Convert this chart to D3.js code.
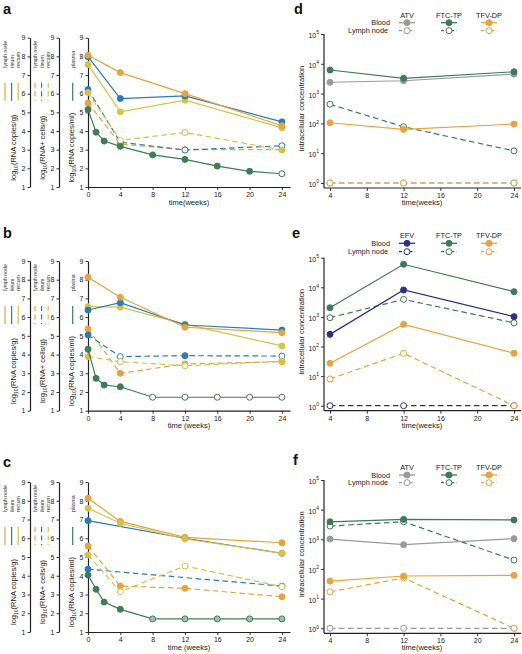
<!DOCTYPE html>
<html><head><meta charset="utf-8">
<script src="https://cdn.jsdelivr.net/npm/d3@7"></script>
<style>body{margin:0;background:#fff} svg{font-family:"Liberation Sans",Arial,Helvetica,sans-serif}</style>
</head><body><svg id="chart" width="522" height="654"></svg>
<script>
// ---------- DATA ----------
const plasmaWeeks = [0, 1, 2, 4, 8, 12, 16, 20, 24];
const tissueWeeks = [0, 4, 12, 24];
const drugWeeks = [4, 12, 24];
const leftTicksX = [0, 4, 8, 12, 16, 20, 24];
const leftTicksY = [1, 2, 3, 4, 5, 6, 7, 8, 9];
const rightTicksX = [4, 8, 12, 16, 20, 24];
const rightTicksY = [1, 10, 100, 1000, 10000, 100000];
const tissueNames = ["lymph node", "ileum", "rectum"];

// panel a
const plasmaA = [5.15, 3.94, 3.46, 3.18, 2.72, 2.48, 2.12, 1.84, 1.71];
const plasmaAOpen = [0, 0, 0, 0, 0, 0, 0, 0, 1];
const lnCopiesA = [8.06, 7.13, 6.0, 4.28];
const ileumCopiesA = [7.98, 5.74, 5.88, 4.49];
const rectumCopiesA = [7.56, 5.03, 5.65, 4.17];
const lnCellsA = [5.5, 3.3, 3.0, 3.0];
const lnCellsAOpen = [0, 0, 0, 0];
const ileumCellsA = [6.22, 3.4, 2.98, 3.21];
const ileumCellsAOpen = [0, 1, 1, 1];
const rectumCellsA = [6.06, 3.5, 3.92, 2.98];
const rectumCellsAOpen = [0, 1, 1, 0];

// panel b
const plasmaB = [4.28, 2.73, 2.37, 2.28, 1.72, 1.72, 1.72, 1.72, 1.72];
const plasmaBOpen = [0, 0, 0, 0, 1, 1, 1, 1, 1];
const lnCopiesB = [8.13, 7.06, 5.46, 5.17];
const ileumCopiesB = [6.38, 6.77, 5.58, 5.31];
const rectumCopiesB = [6.56, 6.53, 5.63, 4.46];
const lnCellsB = [5.37, 3.0, 3.5, 3.62];
const lnCellsBOpen = [0, 0, 0, 0];
const ileumCellsB = [5.05, 3.89, 3.94, 3.92];
const ileumCellsBOpen = [0, 1, 0, 1];
const rectumCellsB = [3.89, 3.62, 3.4, 3.65];
const rectumCellsBOpen = [0, 1, 1, 0];

// panel c
const plasmaC = [4.04, 3.28, 2.6, 2.21, 1.7, 1.7, 1.7, 1.7, 1.7];
const plasmaCOpen = [0, 0, 0, 0, 1, 1, 1, 1, 1];
const lnCopiesC = [8.13, 6.9, 6.05, 5.76];
const ileumWeeksC = [0, 12, 24];
const ileumCopiesC = [6.94, 6.0, 5.2];
const rectumCopiesC = [7.6, 6.8, 5.96, 5.2];
const lnCellsC = [5.59, 3.45, 3.33, 2.88];
const lnCellsCOpen = [0, 0, 0, 0];
const ileumCellsWeeksC = [0, 24];
const ileumCellsC = [4.35, 3.45];
const ileumCellsCOpen = [0, 1];
const rectumCellsC = [5.11, 3.15, 4.52, 3.42];
const rectumCellsCOpen = [0, 1, 1, 1];

// panel d
const drugsD = ["ATV", "FTC-TP", "TFV-DP"];
const bloodD = [[2400, 2700, 4500], [6200, 3250, 5400], [105, 63, 95]];
const lymphD = [[1, 1, 1], [440, 77, 12], [1, 1, 1]];
// panel e
const drugsE = ["EFV", "FTC-TP", "TFV-DP"];
const bloodE = [[257, 8100, 1020], [2040, 60000, 7100], [27, 560, 59]];
const lymphE = [[1, 1, 1], [940, 3900, 630], [8, 59, 1]];
// panel f
const drugsF = ["ATV", "FTC-TP", "TFV-DP"];
const bloodF = [[1020, 660, 1050], [3900, 4700, 4500], [39, 58, 61]];
const lymphF = [[1, 1, 1], [2800, 3900, 200], [17, 50, 1]];

// ---------- STYLE ----------
const COL = {ln: "#e8a33c", ileum: "#2a7bb6", rectum: "#d3c444", plasma: "#3f7d56",
  ATV: "#9a9a9a", "FTC-TP": "#3c7a58", "TFV-DP": "#e8a33c", EFV: "#2d2e87"};
const tissueCols = [COL.ln, COL.ileum, COL.rectum];
const AX = "#222";
const svg = d3.select("#chart");

function styleAxis(g, w) {
  g.selectAll("path.domain").attr("stroke", AX).attr("stroke-width", w || 1.2);
  g.selectAll(".tick line").attr("stroke", AX).attr("stroke-width", 0.9);
  g.selectAll(".tick text").attr("font-size", 7).attr("fill", AX).attr("font-family", "Liberation Sans, Arial, sans-serif");
}

function panelLetter(t, x, y) {
  svg.append("text").attr("x", x).attr("y", y).attr("font-size", 14.5).attr("font-weight", "bold").attr("fill", "#111").text(t);
}

function drawSeries(g, x, y, weeks, vals, opens, color, dashed, openFill) {
  const pts = weeks.map((w, i) => ({w, v: vals[i], o: opens ? opens[i] : 0}));
  g.append("path").datum(pts)
    .attr("d", d3.line().x(d => x(d.w)).y(d => y(d.v)))
    .attr("fill", "none").attr("stroke", color).attr("stroke-width", 1.2)
    .attr("stroke-dasharray", dashed ? "5.5,3.5" : null);
  g.selectAll(null).data(pts).enter().append("circle")
    .attr("cx", d => x(d.w)).attr("cy", d => y(d.v)).attr("r", 3)
    .attr("fill", d => d.o ? (openFill || "#fff") : color)
    .attr("stroke", color).attr("stroke-width", 1);
}

function leftPanel(cfg) {
  const top = cfg.top, bottom = cfg.bottom;
  const y = d3.scaleLinear().domain([1, 9]).range([bottom, top]);
  const x = d3.scaleLinear().domain([0, 25]).range([88, 290]);
  const g = svg.append("g");
  const axisXs = [30, 59, 88];
  const titles = [["log", "10", "(RNA copies/g)"], ["log", "10", "(RNA+ cells/g)"], ["log", "10", "(RNA copies/ml)"]];
  axisXs.forEach((ax, k) => {
    const a = g.append("g").attr("transform", `translate(${ax},0)`)
      .call(d3.axisLeft(y).tickValues(leftTicksY).tickSize(2.5).tickPadding(2).tickSizeOuter(0));
    styleAxis(a);
    const tx = ax - 17 + 2.5, ty = top + 110;
    const t = g.append("text").attr("transform", `translate(${tx},${ty}) rotate(-90)`)
      .attr("text-anchor", "middle").attr("font-size", 7.5).attr("fill", AX);
    t.append("tspan").text(titles[k][0]);
    t.append("tspan").attr("font-size", 5).attr("dy", 2).text(titles[k][1]);
    t.append("tspan").attr("dy", -2).text(titles[k][2]);
  });
  // small legends
  const lblBottom = top + 30, l0 = top + 45, l1 = top + 63;
  tissueNames.forEach((n, i) => {
    [5, 35].forEach((bx, k) => {
      const cx = bx + i * 6.6;
      g.append("text").attr("transform", `translate(${cx + 2},${lblBottom}) rotate(-90)`)
        .attr("font-size", 5.2).attr("fill", "#333").text(n);
      g.append("line").attr("x1", cx).attr("x2", cx).attr("y1", l0).attr("y2", l1)
        .attr("stroke", tissueCols[i]).attr("stroke-width", 1.2)
        .attr("stroke-dasharray", k ? "5,3.5" : null);
    });
  });
  g.append("text").attr("transform", `translate(${72.7 + 2},${lblBottom}) rotate(-90)`)
    .attr("font-size", 5.2).attr("fill", "#333").text("plasma");
  g.append("line").attr("x1", 72.7).attr("x2", 72.7).attr("y1", l0).attr("y2", l1)
    .attr("stroke", COL.plasma).attr("stroke-width", 1.2);
  // x axis
  const xa = g.append("g").attr("transform", `translate(0,${bottom})`)
    .call(d3.axisBottom(x).tickValues(leftTicksX).tickSize(3).tickPadding(2).tickSizeOuter(0));
  styleAxis(xa);
  g.append("text").attr("x", 189).attr("y", bottom + 17.5).attr("text-anchor", "middle")
    .attr("font-size", 7.5).attr("fill", AX).text(cfg.xTitle);
  // series
  cfg.dashed.forEach(s => drawSeries(g, x, y, s.w, s.v, s.o, s.c, true));
  cfg.solid.forEach(s => drawSeries(g, x, y, s.w, s.v, null, s.c, false));
  drawSeries(g, x, y, plasmaWeeks, cfg.plasma, cfg.plasmaOpen, COL.plasma, false, cfg.plasmaFill);
}

function rightPanel(cfg) {
  const yTop = cfg.yTop, y0 = cfg.y0;
  const y = d3.scaleLog().domain([1, 1e5]).range([y0, yTop]);
  const x = d3.scaleLinear().domain([4, 24]).range([330, 514]);
  const base = y0 + 5;
  const g = svg.append("g");
  const ya = g.append("g").attr("transform", "translate(324,0)")
    .call(d3.axisLeft(y).tickValues(rightTicksY).tickSize(3).tickPadding(2).tickFormat(() => ""));
  ya.select("path.domain").remove();
  styleAxis(ya);
  ya.selectAll(".tick text").each(function(d) {
    const t = d3.select(this).attr("x", -5).attr("dy", "0.5em");
    t.append("tspan").text("10");
    t.append("tspan").attr("font-size", 5).attr("dy", "-0.75em").text(Math.round(Math.log10(d)));
  });
  g.append("line").attr("x1", 324).attr("x2", 324).attr("y1", yTop).attr("y2", base)
    .attr("stroke", AX).attr("stroke-width", 1.2);
  const xa = g.append("g").attr("transform", `translate(0,${base})`)
    .call(d3.axisBottom(x).tickValues(rightTicksX).tickSize(3).tickPadding(2));
  xa.select("path.domain").remove();
  styleAxis(xa);
  g.append("line").attr("x1", 324).attr("x2", 521).attr("y1", base).attr("y2", base)
    .attr("stroke", AX).attr("stroke-width", 1.2);
  g.append("text").attr("x", 422).attr("y", base + 17).attr("text-anchor", "middle")
    .attr("font-size", 7.5).attr("fill", AX).text("time(weeks)");
  g.append("text").attr("transform", `translate(303.5,${(yTop + y0) / 2}) rotate(-90)`)
    .attr("text-anchor", "middle").attr("font-size", 7.5).attr("fill", AX).text("intracellular concentration");
  // legend
  const lx = [407, 449, 489];
  const ly = cfg.legendY;
  g.append("text").attr("x", 390).attr("y", ly[1] + 2.5).attr("text-anchor", "end").attr("font-size", 7.3).attr("fill", AX).text("Blood");
  g.append("text").attr("x", 388).attr("y", ly[2] + 2.5).attr("text-anchor", "end").attr("font-size", 7.3).attr("fill", AX).text("Lymph node");
  cfg.drugs.forEach((dn, i) => {
    const c = COL[dn];
    g.append("text").attr("x", lx[i]).attr("y", ly[0] + 2.5).attr("text-anchor", "middle").attr("font-size", 7.3).attr("fill", AX).text(dn);
    [1, 2].forEach(r => {
      g.append("line").attr("x1", lx[i] - 8).attr("x2", lx[i] + 8).attr("y1", ly[r]).attr("y2", ly[r])
        .attr("stroke", c).attr("stroke-width", 1.3).attr("stroke-dasharray", r === 2 ? "3,2.2" : null);
      g.append("circle").attr("cx", lx[i]).attr("cy", ly[r]).attr("r", 3)
        .attr("fill", r === 1 ? c : "#fff").attr("stroke", c).attr("stroke-width", 1);
    });
  });
  // series: lymph node first, then blood
  cfg.drugs.forEach((dn, i) => drawSeries(g, x, y, drugWeeks, cfg.lymph[i], [1, 1, 1], COL[dn], true));
  cfg.drugs.forEach((dn, i) => drawSeries(g, x, y, drugWeeks, cfg.blood[i], null, COL[dn], false));
}

// ---------- PANELS ----------
panelLetter("a", 3, 14);
leftPanel({top: 37.7, bottom: 187, xTitle: "time(weeks)",
  solid: [{w: tissueWeeks, v: rectumCopiesA, c: COL.rectum}, {w: tissueWeeks, v: ileumCopiesA, c: COL.ileum}, {w: tissueWeeks, v: lnCopiesA, c: COL.ln}],
  dashed: [{w: tissueWeeks, v: lnCellsA, o: lnCellsAOpen, c: COL.ln}, {w: tissueWeeks, v: ileumCellsA, o: ileumCellsAOpen, c: COL.ileum}, {w: tissueWeeks, v: rectumCellsA, o: rectumCellsAOpen, c: COL.rectum}],
  plasma: plasmaA, plasmaOpen: plasmaAOpen});

panelLetter("b", 3, 238);
leftPanel({top: 261, bottom: 410.7, xTitle: "time (weeks)",
  solid: [{w: tissueWeeks, v: rectumCopiesB, c: COL.rectum}, {w: tissueWeeks, v: ileumCopiesB, c: COL.ileum}, {w: tissueWeeks, v: lnCopiesB, c: COL.ln}],
  dashed: [{w: tissueWeeks, v: lnCellsB, o: lnCellsBOpen, c: COL.ln}, {w: tissueWeeks, v: ileumCellsB, o: ileumCellsBOpen, c: COL.ileum}, {w: tissueWeeks, v: rectumCellsB, o: rectumCellsBOpen, c: COL.rectum}],
  plasma: plasmaB, plasmaOpen: plasmaBOpen});

panelLetter("c", 3, 467);
leftPanel({top: 482, bottom: 632, xTitle: "time (weeks)",
  solid: [{w: ileumWeeksC, v: ileumCopiesC, c: COL.ileum}, {w: tissueWeeks, v: lnCopiesC, c: COL.ln}, {w: tissueWeeks, v: rectumCopiesC, c: COL.rectum}],
  dashed: [{w: ileumCellsWeeksC, v: ileumCellsC, o: ileumCellsCOpen, c: COL.ileum}, {w: tissueWeeks, v: lnCellsC, o: lnCellsCOpen, c: COL.ln}, {w: tissueWeeks, v: rectumCellsC, o: rectumCellsCOpen, c: COL.rectum}],
  plasma: plasmaC, plasmaOpen: plasmaCOpen, plasmaFill: "#9cc4a6"});

panelLetter("d", 294, 14);
rightPanel({yTop: 34, y0: 183, drugs: drugsD, blood: bloodD, lymph: lymphD, legendY: [15, 22.7, 30.7]});
panelLetter("e", 292, 238);
rightPanel({yTop: 257.7, y0: 405.7, drugs: drugsE, blood: bloodE, lymph: lymphE, legendY: [235, 243.3, 251.7]});
panelLetter("f", 293, 465);
rightPanel({yTop: 480, y0: 628.3, drugs: drugsF, blood: bloodF, lymph: lymphF, legendY: [467.7, 475, 482.7]});
</script></body></html>
